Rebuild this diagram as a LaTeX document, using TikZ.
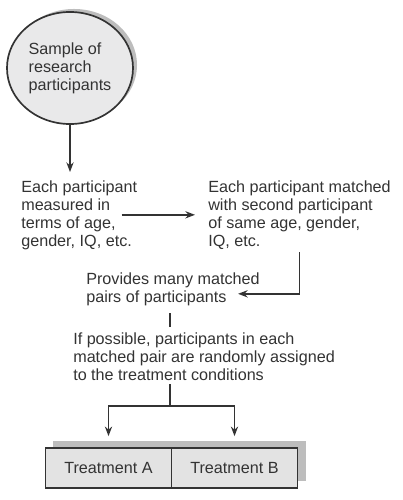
\documentclass[tikz,border=0pt]{standalone}
\usepackage{fontspec}
\setmainfont{Liberation Sans}
\usetikzlibrary{positioning, shapes.geometric, arrows.meta, shadows}

\definecolor{inkgray}{HTML}{333333}
\definecolor{boxgray}{HTML}{E3E3E3}
\definecolor{shadegray}{HTML}{BDBDBD}
\definecolor{ovalgray}{HTML}{E9E9EA}

\begin{document}
\begin{tikzpicture}[x=0.025cm, y=-0.025cm,
    font=\fontsize{11.5}{12.8}\selectfont, text=inkgray,
    line/.style={draw=inkgray, line width=1.3pt},
    >={Stealth[length=2.4mm, width=1.8mm]},
    note/.style={align=left, inner sep=0pt, anchor=base west},
    treat/.style={draw=inkgray, line width=1.2pt, fill=boxgray,
      minimum width=3.15cm, minimum height=1cm, inner sep=0pt,
      drop shadow={shadow xshift=0.2cm, shadow yshift=0.175cm, fill=shadegray, opacity=1}}]
  \useasboundingbox (0,0) rectangle (402,500);

  % Nodes (notes are placed by the baseline of their last line)
  \node[ellipse, draw=inkgray, line width=1.2pt, fill=ovalgray,
    minimum width=3.15cm, minimum height=2.8cm, inner sep=0pt, align=left,
    drop shadow={shadow xshift=0.1cm, shadow yshift=0.075cm, fill=shadegray, opacity=1}]
    (sample) at (70,68) {Sample of\\research\\participants};
  \node[note] (measure) at (21,246) {Each participant\\measured in\\terms of age,\\gender, IQ, etc.};
  \node[note] (match) at (208,246) {Each participant matched\\with second participant\\of same age, gender,\\IQ, etc.};
  \node[note] (pairs) at (86,302) {Provides many matched\\pairs of participants};
  \node[note] (assign) at (73,380) {If possible, participants in each\\matched pair are randomly assigned\\to the treatment conditions};
  \foreach \t/\x in {A/108.5,B/234.5}
  \node[treat] (treat\t) at (\x,468) {Treatment \t};
  \coordinate (split) at (170,406);

  % Arrows
  \draw[line, ->, shorten >=0.2cm] (sample) -- (sample.south |- measure.north);
  \draw[line, ->] ([xshift=-0.4cm]measure.east) -- ([xshift=-0.325cm]measure.east -| match.west);
  \draw[line, ->, shorten <=0.075cm] (match.south) |- ([shift={(-22,5)}]pairs.east);
  \draw[line, shorten <=0.19cm, shorten >=0.125cm] (pairs.south -| split) -- (assign.north -| split);
  \draw[line, shorten <=0.1cm] (assign.south -| split) -- (split);
  \foreach \t in {A,B}
  \draw[line, ->, shorten >=0.275cm] (split) -| (treat\t);
\end{tikzpicture}
\end{document}
